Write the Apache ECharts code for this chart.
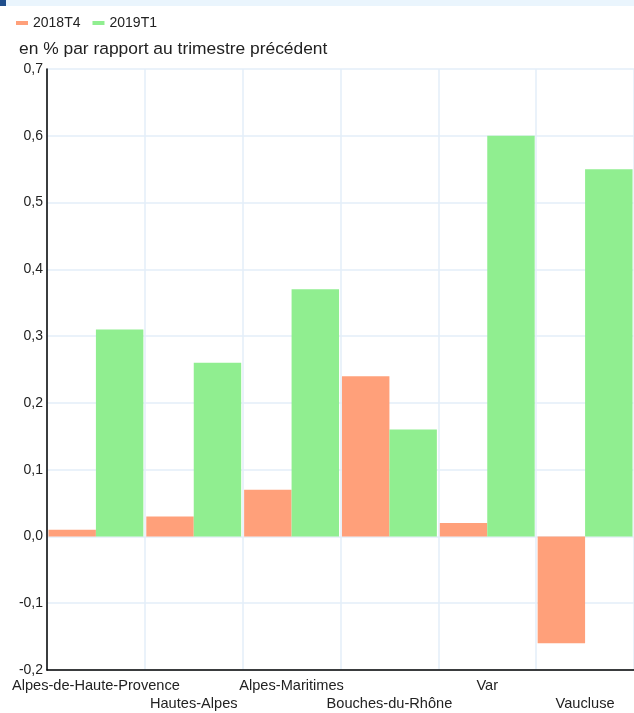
<!DOCTYPE html>
<html>
<head>
<meta charset="utf-8">
<script src="https://cdn.jsdelivr.net/npm/echarts@6/dist/echarts.min.js"></script>
<style>
html,body{margin:0;padding:0;background:#fff;}
#topbar{position:absolute;left:0;top:0;width:634px;height:6px;background:#eaf5fd;}
#topsq{position:absolute;left:0;top:0;width:6px;height:6px;background:#1f4e8c;}
#chart{position:absolute;left:0;top:0;width:634px;height:713px;}
</style>
</head>
<body>
<div id="chart"></div>
<div id="topbar"></div>
<div id="topsq"></div>
<script>
var categories = ['Alpes-de-Haute-Provence','Hautes-Alpes','Alpes-Maritimes','Bouches-du-Rhône','Var','Vaucluse'];
var s2018T4 = [0.01, 0.03, 0.07, 0.24, 0.02, -0.16];
var s2019T1 = [0.31, 0.26, 0.37, 0.16, 0.60, 0.55];
var seriesNames = ['2018T4','2019T1'];
var subtitle = 'en % par rapport au trimestre précédent';

var chart = echarts.init(document.getElementById('chart'));
chart.setOption({
  animation: false,
  color: ['#FFA07A', '#90EE90'],
  textStyle: {fontFamily: 'Liberation Sans, Arial, sans-serif'},
  title: {
    text: subtitle,
    left: 14, top: 36,
    textStyle: {fontSize: 17.4, fontWeight: 'normal', color: '#222'}
  },
  legend: {
    left: 11, top: 11,
    itemWidth: 12, itemHeight: 4, itemGap: 12,
    icon: 'rect',
    textStyle: {fontSize: 14, color: '#222'},
    data: seriesNames
  },
  grid: {left: 47, right: 0, top: 69, bottom: 41, containLabel: false},
  xAxis: {
    type: 'category',
    data: categories,
    axisLine: {onZero: false, lineStyle: {color: '#000', width: 1.5}},
    axisTick: {show: false},
    splitLine: {show: true, lineStyle: {color: '#e3eef8', width: 1.5}},
    axisLabel: {
      interval: 0, color: '#222', fontSize: 14.6, margin: 7, lineHeight: 18,
      formatter: function (v, i) { return i % 2 === 1 ? '\n' + v : v; }
    }
  },
  yAxis: {
    type: 'value',
    min: -0.2, max: 0.7, interval: 0.1,
    axisLine: {show: true, lineStyle: {color: '#000', width: 1.5}},
    axisTick: {show: false},
    splitLine: {lineStyle: {color: '#e3eef8', width: 1.5}},
    axisLabel: {
      color: '#222', fontSize: 14, margin: 4,
      formatter: function (v) { return (Math.round(v * 10) / 10).toFixed(1).replace('.', ','); }
    }
  },
  series: [
    {name: seriesNames[0], type: 'bar', data: s2018T4, barGap: '0%', barCategoryGap: '3%'},
    {name: seriesNames[1], type: 'bar', data: s2019T1, barGap: '0%', barCategoryGap: '3%'}
  ]
});
</script>
</body>
</html>
